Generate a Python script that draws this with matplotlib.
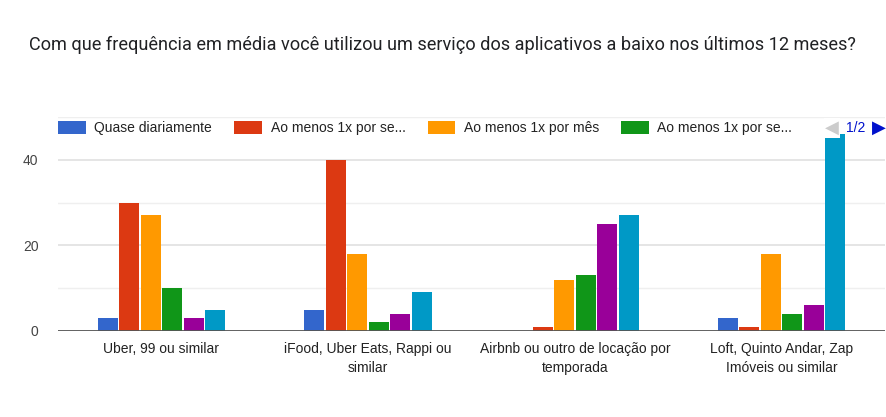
import matplotlib
matplotlib.use("Agg")
import matplotlib.pyplot as plt
import numpy as np
from matplotlib.patches import Patch

title = "Com que frequência em média você utilizou um serviço dos aplicativos a baixo nos últimos 12 meses?"
categories = ["Uber, 99 ou similar", "iFood, Uber Eats, Rappi ou\nsimilar",
              "Airbnb ou outro de locação por\ntemporada", "Loft, Quinto Andar, Zap\nImóveis ou similar"]
series_names = ["Quase diariamente", "Ao menos 1x por se...", "Ao menos 1x por mês",
                "Ao menos 1x por se...", "Série 5", "Série 6"]
values = [
    [3, 5, 0, 3],
    [30, 40, 1, 1],
    [27, 18, 12, 18],
    [10, 2, 13, 4],
    [3, 4, 25, 6],
    [5, 9, 27, 46],
]
colors = ["#3366cc", "#dc3912", "#ff9900", "#109618", "#990099", "#0099c6"]
yticks = [0, 20, 40]
ygrid = [10, 20, 30, 40, 50]

W, H = 886, 417
fig = plt.figure(figsize=(W / 100, H / 100), dpi=100)
fig.patch.set_facecolor("white")

fig.text(29 / W, 1 - 45 / H, title, fontsize=13.1, family="Roboto", color="#202124",
         va="center", ha="left")

left, right, top, bottom = 58, 885, 117, 331
ax = fig.add_axes([left / W, 1 - bottom / H, (right - left) / W, (bottom - top) / H])
ax.set_xlim(0, 4)
ax.set_ylim(0, 50)

nser = len(values)
bw = 0.104
for i, (vals, c) in enumerate(zip(values, colors)):
    x = np.arange(4) + 0.5 + (i - (nser - 1) / 2) * bw
    ax.bar(x, vals, width=bw * 0.92, color=c, edgecolor="none", zorder=3)

for g in ygrid:
    lc = "#e0e0e0" if g in yticks else "#efefef"
    ax.axhline(g, color=lc, lw=1.2 if g in yticks else 1.0, zorder=1)
ax.axhline(0, color="#555555", lw=1.3, zorder=4)

for s in ax.spines.values():
    s.set_visible(False)
ax.set_yticks(yticks)
ax.set_yticklabels([str(t) for t in yticks], family="Liberation Sans", fontsize=10, color="#444444")
ax.tick_params(axis="y", length=0, pad=14)
ax.set_xticks(np.arange(4) + 0.5)
ax.set_xticklabels(categories, family="Liberation Sans", fontsize=10, color="#222222", linespacing=1.4)
ax.tick_params(axis="x", length=0, pad=8)

# legend
handles = [Patch(facecolor=c, edgecolor="none") for c in colors[:4]]
leg = fig.legend(handles, series_names[:4], loc="center left",
                 bbox_to_anchor=(57 / W, 1 - 128 / H), ncol=4, frameon=True,
                 prop={"family": "Liberation Sans", "size": 10},
                 handlelength=2.0, handleheight=1.1, handletextpad=0.6,
                 columnspacing=1.6, borderaxespad=0, borderpad=0.1)
leg.get_frame().set_facecolor("white")
leg.get_frame().set_edgecolor("none")
for t in leg.get_texts():
    t.set_color("#222222")

# pager
fig.text(832 / W, 1 - 128 / H, "◀", fontsize=13, color="#cccccc", family="DejaVu Sans",
         ha="center", va="center",
         bbox=dict(facecolor="white", edgecolor="none", pad=1))
fig.text(856 / W, 1 - 128 / H, "1/2", fontsize=10, color="#0011cc", family="Liberation Sans",
         ha="center", va="center",
         bbox=dict(facecolor="white", edgecolor="none", pad=1))
fig.text(879 / W, 1 - 128 / H, "▶", fontsize=13, color="#0011cc", family="DejaVu Sans",
         ha="center", va="center")

fig.savefig("out.png", dpi=100, facecolor="white")
